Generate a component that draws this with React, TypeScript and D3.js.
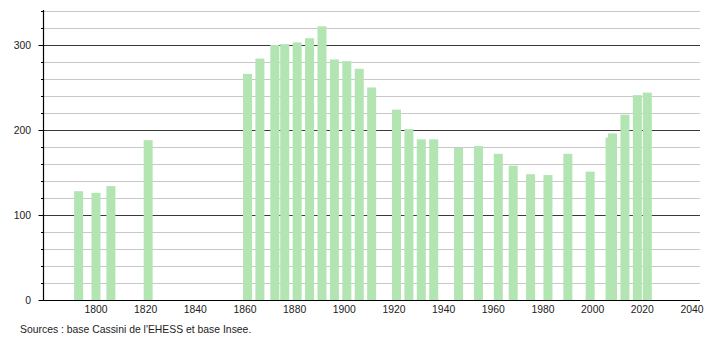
import React from "react";
import * as d3 from "d3";

const years = [1793, 1800, 1806, 1821, 1861, 1866, 1872, 1876, 1881, 1886, 1891, 1896, 1901, 1906, 1911, 1921, 1926, 1931, 1936, 1946, 1954, 1962, 1968, 1975, 1982, 1990, 1999, 2007, 2008, 2013, 2018, 2022];
const population = [128, 126, 134, 188, 266, 284, 300, 301, 303, 308, 322, 283, 281, 272, 250, 224, 201, 189, 189, 179, 181, 172, 158, 148, 147, 172, 151, 191, 196, 218, 241, 244];
const xTicks = [1800, 1820, 1840, 1860, 1880, 1900, 1920, 1940, 1960, 1980, 2000, 2020, 2040];
const yMajor = [0, 100, 200, 300];
const yMinor = d3.range(20, 341, 20);
const sourceText = "Sources : base Cassini de l'EHESS et base Insee.";

export default function App() {
  const W = 710, H = 340;
  const x = d3.scaleLinear().domain([1800, 2040]).range([96, 692]);
  const y = d3.scaleLinear().domain([0, 340]).range([300, 11]);
  const axisX = 43.5;
  const right = 700;
  const barW = 9;
  const font = "'Liberation Sans', Arial, sans-serif";
  const fs = 10.4;
  return (
    <svg width={W} height={H} style={{ position: "absolute", left: 0, top: 0, background: "#fff" }} fontFamily={font}>
      {yMinor.filter(v => v % 100 !== 0).map(v => (
        <line key={"g" + v} x1={axisX} x2={right} y1={Math.round(y(v)) + 0.5} y2={Math.round(y(v)) + 0.5} stroke="#c8c8c8" strokeWidth={1} />
      ))}
      {yMajor.filter(v => v > 0).map(v => (
        <line key={"G" + v} x1={axisX} x2={right} y1={Math.round(y(v)) + 0.5} y2={Math.round(y(v)) + 0.5} stroke="#3a3a3a" strokeWidth={1} />
      ))}
      {years.map((yr, i) => (
        <rect key={yr} x={x(yr) - barW / 2} y={y(population[i])} width={barW} height={y(0) - y(population[i])} fill="#b2e5b2" />
      ))}
      <line x1={axisX} x2={axisX} y1={10} y2={300} stroke="#000" strokeWidth={1.2} />
      <line x1={axisX - 0.5} x2={right} y1={300.5} y2={300.5} stroke="#000" strokeWidth={1.2} />
      {yMinor.filter(v => v % 100 !== 0).map(v => (
        <line key={"t" + v} x1={axisX - 2.5} x2={axisX} y1={Math.round(y(v)) + 0.5} y2={Math.round(y(v)) + 0.5} stroke="#000" strokeWidth={1} />
      ))}
      {yMajor.map(v => (
        <line key={"T" + v} x1={axisX - 5} x2={axisX} y1={Math.round(y(v)) + 0.5} y2={Math.round(y(v)) + 0.5} stroke="#000" strokeWidth={1} />
      ))}
      {yMajor.map(v => (
        <text key={"l" + v} x={31} y={y(v) + 4} textAnchor="end" fontSize={fs} fill="#222">{v}</text>
      ))}
      {xTicks.map(t => (
        <text key={"x" + t} x={x(t)} y={313} textAnchor="middle" fontSize={fs} fill="#222">{t}</text>
      ))}
      <text x={20} y={333} fontSize={fs} fill="#222">{sourceText}</text>
    </svg>
  );
}
